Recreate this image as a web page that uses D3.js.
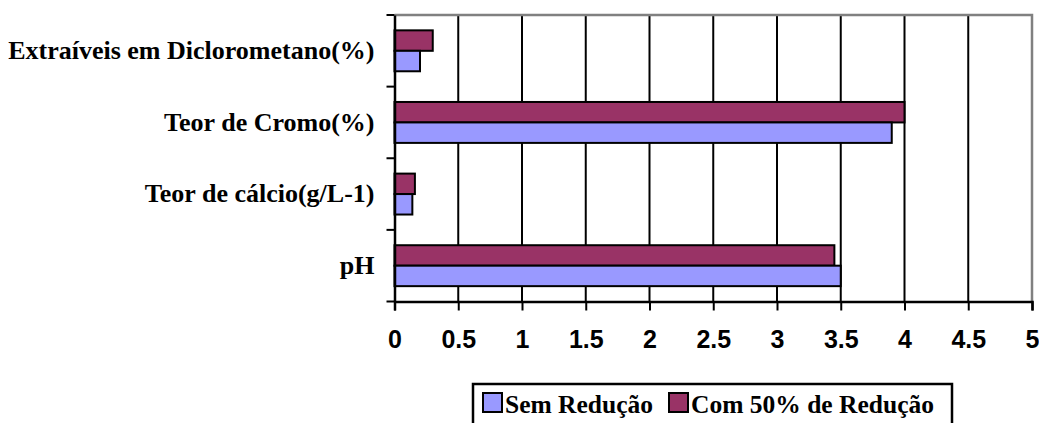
<!DOCTYPE html>
<html><head><meta charset="utf-8">
<script src="https://cdn.jsdelivr.net/npm/d3@7"></script>
<style>body{margin:0;background:#fff}svg{display:block}</style>
</head><body>
<svg id="c" width="1039" height="423"></svg>
<script>
const categories = ["Extraíveis em Diclorometano(%)", "Teor de Cromo(%)", "Teor de cálcio(g/L-1)", "pH"];
const seriesNames = ["Sem Redução", "Com 50% de Redução"];
const semReducao = [0.2, 3.9, 0.14, 3.5];
const com50Reducao = [0.3, 4.0, 0.16, 3.45];
const xTicks = [0, 0.5, 1, 1.5, 2, 2.5, 3, 3.5, 4, 4.5, 5];
const colors = {"Sem Redução": "#9999FF", "Com 50% de Redução": "#993366"};

(function () {
const serif = "Liberation Serif";
const sans = "Liberation Sans";
const svg = d3.select("#c");
const pL = 394.5, pR = 1032, pT = 15, pB = 301.5;
const x = d3.scaleLinear().domain([0, 5]).range([pL, pR]);
const y = d3.scaleBand().domain(categories).range([pT, pB]).padding(0);
const inner = d3.scaleBand().domain(["Com 50% de Redução", "Sem Redução"]).range([0, y.bandwidth()]).paddingInner(0).paddingOuter(0.75);

// gridlines
svg.append("g").selectAll("line").data(xTicks.filter(t => t > 0 && t < 5)).join("line")
  .attr("x1", d => x(d)).attr("x2", d => x(d)).attr("y1", pT).attr("y2", pB)
  .attr("stroke", "#000").attr("stroke-width", 2);
// top & right border (gray)
svg.append("path").attr("d", `M${pL},${pT}H${pR}V${pB}`)
  .attr("fill", "none").attr("stroke", "#808080").attr("stroke-width", 2.5);

// bars
const rows = [];
categories.forEach((c, i) => {
  rows.push({cat: c, s: "Com 50% de Redução", v: com50Reducao[i]});
  rows.push({cat: c, s: "Sem Redução", v: semReducao[i]});
});
svg.append("g").selectAll("rect").data(rows).join("rect")
  .attr("x", x(0)).attr("y", d => y(d.cat) + inner(d.s))
  .attr("width", d => x(d.v) - x(0)).attr("height", inner.bandwidth())
  .attr("fill", d => colors[d.s]).attr("stroke", "#000").attr("stroke-width", 2);

// x axis
const xa = svg.append("g").attr("transform", `translate(0,${pB})`)
  .call(d3.axisBottom(x).tickValues(xTicks).tickFormat(d => String(d)).tickSize(9).tickPadding(20));
xa.select(".domain").attr("stroke", "#000").attr("stroke-width", 2.5);
xa.selectAll(".tick line").attr("stroke", "#000").attr("stroke-width", 2);
xa.selectAll("text").attr("font-family", sans).attr("font-weight", 700).attr("font-size", 25).attr("fill", "#000");

// y axis
const ya = svg.append("g").attr("transform", `translate(${pL},0)`)
  .call(d3.axisLeft(y).tickSize(0).tickPadding(20));
ya.select(".domain").attr("stroke", "#000").attr("stroke-width", 2.5);
ya.selectAll("text").attr("font-family", serif).attr("font-weight", 700).attr("font-size", 26).attr("fill", "#000");
// y boundary ticks
const bounds = categories.map(c => y(c)).concat([pB]);
svg.append("g").selectAll("line").data(bounds).join("line")
  .attr("x1", pL - 8).attr("x2", pL).attr("y1", d => d).attr("y2", d => d)
  .attr("stroke", "#000").attr("stroke-width", 2);

// legend
const lg = svg.append("g");
lg.append("rect").attr("x", 473).attr("y", 384).attr("width", 479).attr("height", 60)
  .attr("fill", "#fff").attr("stroke", "#000").attr("stroke-width", 2.5);
const legendX = [483, 669];
seriesNames.forEach((s, i) => {
  lg.append("rect").attr("x", legendX[i]).attr("y", 393).attr("width", 19).attr("height", 19)
    .attr("fill", colors[s]).attr("stroke", "#000").attr("stroke-width", 2);
  lg.append("text").attr("x", legendX[i] + 22).attr("y", 413).text(s)
    .attr("font-family", serif).attr("font-weight", 700).attr("font-size", 25.5).attr("fill", "#000");
});
})();
</script>
</body></html>
